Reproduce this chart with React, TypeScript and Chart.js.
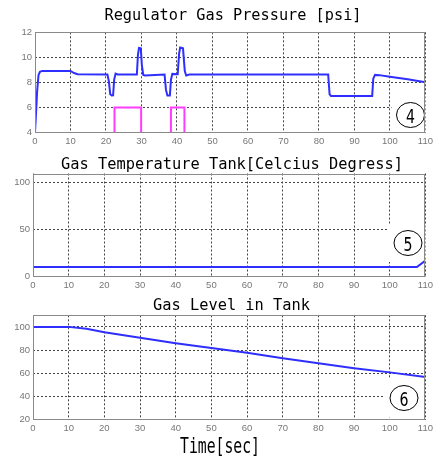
import React, { useEffect, useRef } from 'react';
import { Chart, registerables } from 'chart.js';

Chart.register(...registerables);

// ---------- data ----------
const timeMin = 0;
const timeMax = 110;
const timeStep = 10;

const pressureTime = [0, 0.3, 0.6, 1.0, 1.4, 2, 10, 11, 12, 20.4, 20.8, 21.2, 21.6, 22.0, 22.3, 22.7, 23.3, 28.7, 29.0, 29.3, 29.8, 30.1, 30.5, 31, 36.5, 36.9, 37.3, 38.0, 38.3, 38.7, 40.2, 40.6, 40.9, 41.7, 42.2, 42.6, 43.5, 82.6, 83.0, 83.4, 95.0, 95.3, 95.8, 97, 100, 105, 110];
const pressureValues = [4.0, 5.6, 7.3, 8.6, 8.85, 8.92, 8.92, 8.75, 8.65, 8.63, 8.1, 7.05, 6.95, 6.97, 8.2, 8.7, 8.63, 8.63, 10.2, 10.75, 10.72, 9.4, 8.6, 8.55, 8.63, 7.4, 6.95, 6.95, 8.2, 8.68, 8.66, 10.3, 10.78, 10.72, 8.9, 8.55, 8.63, 8.63, 7.05, 6.92, 6.92, 8.3, 8.6, 8.58, 8.45, 8.25, 8.02];

const valveTime = [0, 22.4, 22.4, 29.9, 29.9, 38.3, 38.3, 42.1, 42.1, 110];
const valveValues = [0, 0, 6, 6, 0, 0, 6, 6, 0, 0];

const temperatureTime = [0, 107.6, 110];
const temperatureValues = [10.2, 10.2, 17];

const levelTime = [0, 10, 15, 20, 30, 40, 50, 60, 70, 80, 90, 100, 110];
const levelValues = [100, 100, 98.4, 95.3, 90.6, 85.9, 81.8, 77.6, 73.0, 68.6, 64.3, 60.7, 56.7];

const pressureTicks = { min: 4, max: 12, step: 2 };
const temperatureTicks = { min: 0, max: 110, step: 50 };
const levelTicks = { min: 20, max: 110, step: 20 };

const titles = ['Regulator Gas Pressure [psi]', 'Gas Temperature Tank[Celcius Degress]', 'Gas Level in Tank'];
const markers = ['4', '5', '6'];
const xAxisTitle = 'Time[sec]';

// ---------- component ----------
type Series = { xs: number[]; ys: number[]; color: string };
type PanelProps = {
  top: number;
  height: number;
  area: { left: number; top: number; right: number; bottom: number };
  y: { min: number; max: number; step: number };
  series: Series[];
  title: string;
  titleX: number;
  titleBaseline: number;
  titleWidth: number;
  marker: string;
  markerX: number;
  markerY: number;
  footer?: { text: string; x: number; baseline: number; width: number };
};

const W = 436;
const tickFont = { family: '"Liberation Sans", Arial, sans-serif', size: 9.5 };

function Panel(p: PanelProps) {
  const ref = useRef<HTMLCanvasElement>(null);
  useEffect(() => {
    const canvas = ref.current;
    if (!canvas) return;
    const deco = {
      id: 'deco',
      beforeDatasetsDraw(chart: any) {
        const ctx = chart.ctx;
        const a = chart.chartArea;
        ctx.save();
        ctx.beginPath();
        ctx.rect(a.left, a.top, a.right - a.left, a.bottom - a.top);
        ctx.clip();
        ctx.fillStyle = '#ffffff';
        ctx.fillRect(p.markerX - 19, p.markerY - 19, 38, 38);
        ctx.restore();
        ctx.save();
        ctx.strokeStyle = '#000';
        ctx.lineWidth = 1;
        ctx.beginPath();
        ctx.ellipse(p.markerX, p.markerY, 14, 12.5, 0, 0, Math.PI * 2);
        ctx.stroke();
        ctx.fillStyle = '#000';
        ctx.font = '20px "DejaVu Sans", sans-serif';
        ctx.textAlign = 'center';
        ctx.textBaseline = 'alphabetic';
        ctx.fillText(p.marker, p.markerX, p.markerY + 7.5, 9);
        ctx.restore();
      },
      afterDatasetsDraw(chart: any) {
        const ctx = chart.ctx;
        const a = chart.chartArea;
        ctx.save();
        ctx.strokeStyle = '#8a8a8a';
        ctx.lineWidth = 1;
        const l = Math.round(a.left) + 0.5;
        const t = Math.round(a.top) + 0.5;
        const r = Math.round(a.right) - 0.5;
        const b = Math.round(a.bottom) - 0.5;
        ctx.strokeRect(l, t, r - l, b - t);
        ctx.restore();
      },
      afterDraw(chart: any) {
        const ctx = chart.ctx;
        ctx.save();
        ctx.fillStyle = '#000';
        ctx.textAlign = 'center';
        ctx.textBaseline = 'alphabetic';
        ctx.font = '16.5px "DejaVu Sans Mono", monospace';
        ctx.fillText(p.title, p.titleX, p.titleBaseline, p.titleWidth);
        if (p.footer) {
          ctx.font = '22px "DejaVu Sans Mono", monospace';
          ctx.fillText(p.footer.text, p.footer.x, p.footer.baseline, p.footer.width);
        }
        ctx.restore();
      },
    };
    const chart = new Chart(canvas, {
      type: 'line',
      data: {
        datasets: p.series.map((s) => ({
          data: s.xs.map((x, i) => ({ x, y: s.ys[i] })),
          borderColor: s.color,
          borderWidth: 2,
          pointRadius: 0,
          tension: 0,
          fill: false,
        })),
      },
      options: {
        animation: false,
        responsive: false,
        devicePixelRatio: 1,
        events: [],
        layout: {
          padding: { top: p.area.top, right: W - p.area.right, left: 0, bottom: 0 },
        },
        plugins: { legend: { display: false }, title: { display: false }, tooltip: { enabled: false } },
        scales: {
          x: {
            type: 'linear',
            min: timeMin,
            max: timeMax,
            afterFit: (s: any) => {
              s.height = p.height - p.area.bottom;
            },
            ticks: { stepSize: timeStep, color: '#777', font: tickFont, padding: 3, maxRotation: 0, includeBounds: false },
            grid: { color: '#444', lineWidth: 1, drawTicks: false },
            border: { display: false, dash: [2, 2] },
          },
          y: {
            type: 'linear',
            min: p.y.min,
            max: p.y.max,
            afterFit: (s: any) => {
              s.width = p.area.left;
            },
            ticks: { stepSize: p.y.step, color: '#777', font: tickFont, padding: 3, includeBounds: false },
            grid: { color: '#444', lineWidth: 1, drawTicks: false },
            border: { display: false, dash: [2, 2] },
          },
        },
      },
      plugins: [deco],
    } as any);
    return () => chart.destroy();
  }, []);
  return (
    <canvas
      ref={ref}
      width={W}
      height={p.height}
      style={{ position: 'absolute', left: 0, top: p.top, width: W, height: p.height, display: 'block' }}
    />
  );
}

export default function App() {
  return (
    <div style={{ position: 'absolute', left: 0, top: 0, width: W, height: 459, background: '#fff' }}>
      <Panel
        top={0}
        height={150}
        area={{ left: 35, top: 32.3, right: 428, bottom: 132.5 }}
        y={pressureTicks}
        series={[
          { xs: valveTime, ys: valveValues, color: '#ff3cff' },
          { xs: pressureTime, ys: pressureValues, color: '#2e2eff' },
        ]}
        title={titles[0]}
        titleX={233}
        titleBaseline={19.5}
        titleWidth={257}
        marker={markers[0]}
        markerX={410.5}
        markerY={115}
      />
      <Panel
        top={150}
        height={145}
        area={{ left: 33, top: 23.5, right: 427, bottom: 126.5 }}
        y={temperatureTicks}
        series={[{ xs: temperatureTime, ys: temperatureValues, color: '#2e2eff' }]}
        title={titles[1]}
        titleX={232}
        titleBaseline={19.3}
        titleWidth={342}
        marker={markers[1]}
        markerX={408}
        markerY={93}
      />
      <Panel
        top={295}
        height={164}
        area={{ left: 33, top: 20.3, right: 427, bottom: 124.5 }}
        y={levelTicks}
        series={[{ xs: levelTime, ys: levelValues, color: '#2e2eff' }]}
        title={titles[2]}
        titleX={231.5}
        titleBaseline={15}
        titleWidth={157}
        marker={markers[2]}
        markerX={404}
        markerY={103}
        footer={{ text: xAxisTitle, x: 220, baseline: 158, width: 80 }}
      />
    </div>
  );
}
